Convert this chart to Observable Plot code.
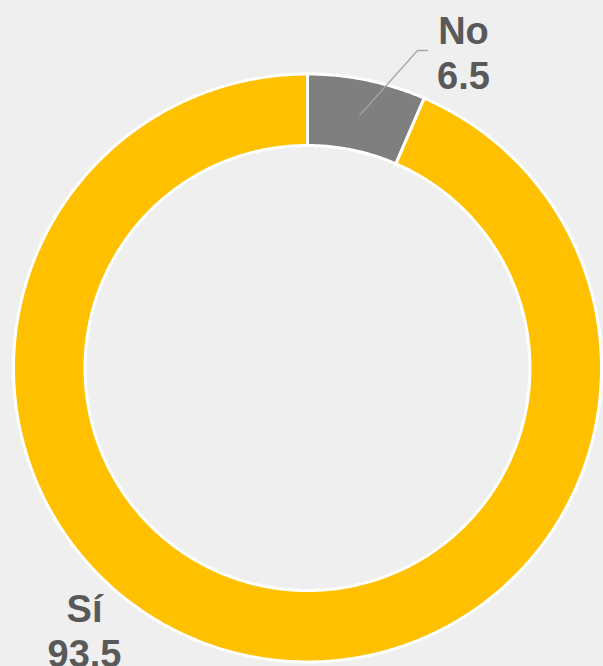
<!DOCTYPE html>
<html><head><meta charset="utf-8">
<script src="https://cdn.jsdelivr.net/npm/d3@7"></script>
<script src="https://cdn.jsdelivr.net/npm/@observablehq/plot@0.6"></script>
<style>html,body{margin:0;padding:0;background:#f0eff0;overflow:hidden}</style>
</head><body><div id="chart"></div>
<script>
// ---- data ----
const categories = ["No", "Sí"];
const values = [6.5, 93.5];
const colors = ["#7f7f7f", "#ffc000"];

// ---- layout (kept separate from data) ----
const W = 603, H = 666;
const cx = 307, cy = 367.5;          // donut centre in px
const R = 294, r0 = 222.5;           // outer / inner radius in px
const labelPlace = [                 // label centres relative to the donut centre
  {dx: 156, dy: -315.5},
  {dx: -223, dy: 262.5}
];
const leaderElbow = {dx: 110, dy: -317.5, len: 10};

const total = d3.sum(values);
let acc = 0;
const slices = categories.map((c, i) => {
  const a0 = acc / total * 2 * Math.PI;
  acc += values[i];
  const a1 = acc / total * 2 * Math.PI;
  return {cat: c, value: values[i], a0, a1};
});

const pts = [];
for (const s of slices) {
  const n = Math.max(2, Math.ceil((s.a1 - s.a0) / (Math.PI / 360)));
  for (let k = 0; k <= n; k++) {
    const a = s.a0 + (s.a1 - s.a0) * k / n;
    pts.push({cat: s.cat, x: R * Math.sin(a), y: -R * Math.cos(a)});
  }
  for (let k = n; k >= 0; k--) {
    const a = s.a0 + (s.a1 - s.a0) * k / n;
    pts.push({cat: s.cat, x: r0 * Math.sin(a), y: -r0 * Math.cos(a)});
  }
}

// leader line for the small slice
const sNo = slices[0];
const am = (sNo.a0 + sNo.a1) / 2, rm = (R + r0) / 2;
const leader = [
  {x: rm * Math.sin(am), y: -rm * Math.cos(am)},
  {x: leaderElbow.dx, y: leaderElbow.dy},
  {x: leaderElbow.dx + leaderElbow.len, y: leaderElbow.dy}
];

const labels = slices.map((s, i) => ({
  text: s.cat + "\n" + s.value.toFixed(1),
  x: labelPlace[i].dx, y: labelPlace[i].dy
}));

const chart = Plot.plot({
  width: W, height: H, margin: 0,
  x: {axis: null, domain: [-cx, W - cx], range: [0, W]},
  y: {axis: null, domain: [-cy, H - cy], range: [0, H]},
  color: {domain: categories, range: colors},
  style: {background: "#f0eff0", overflow: "visible"},
  marks: [
    Plot.line(pts, {x: "x", y: "y", z: "cat", fill: "cat", stroke: "white",
      strokeWidth: 3, strokeLinejoin: "round", curve: "linear-closed"}),
    Plot.line(leader, {x: "x", y: "y", stroke: "#a6a6a6", strokeWidth: 1.3}),
    Plot.text(labels, {x: "x", y: "y", text: "text", fontSize: 38, fontWeight: "bold",
      fill: "#595959", lineHeight: 1.184, textAnchor: "middle",
      fontFamily: "'Liberation Sans', Arial, sans-serif"})
  ]
});
document.getElementById("chart").appendChild(chart);
</script>
</body></html>
